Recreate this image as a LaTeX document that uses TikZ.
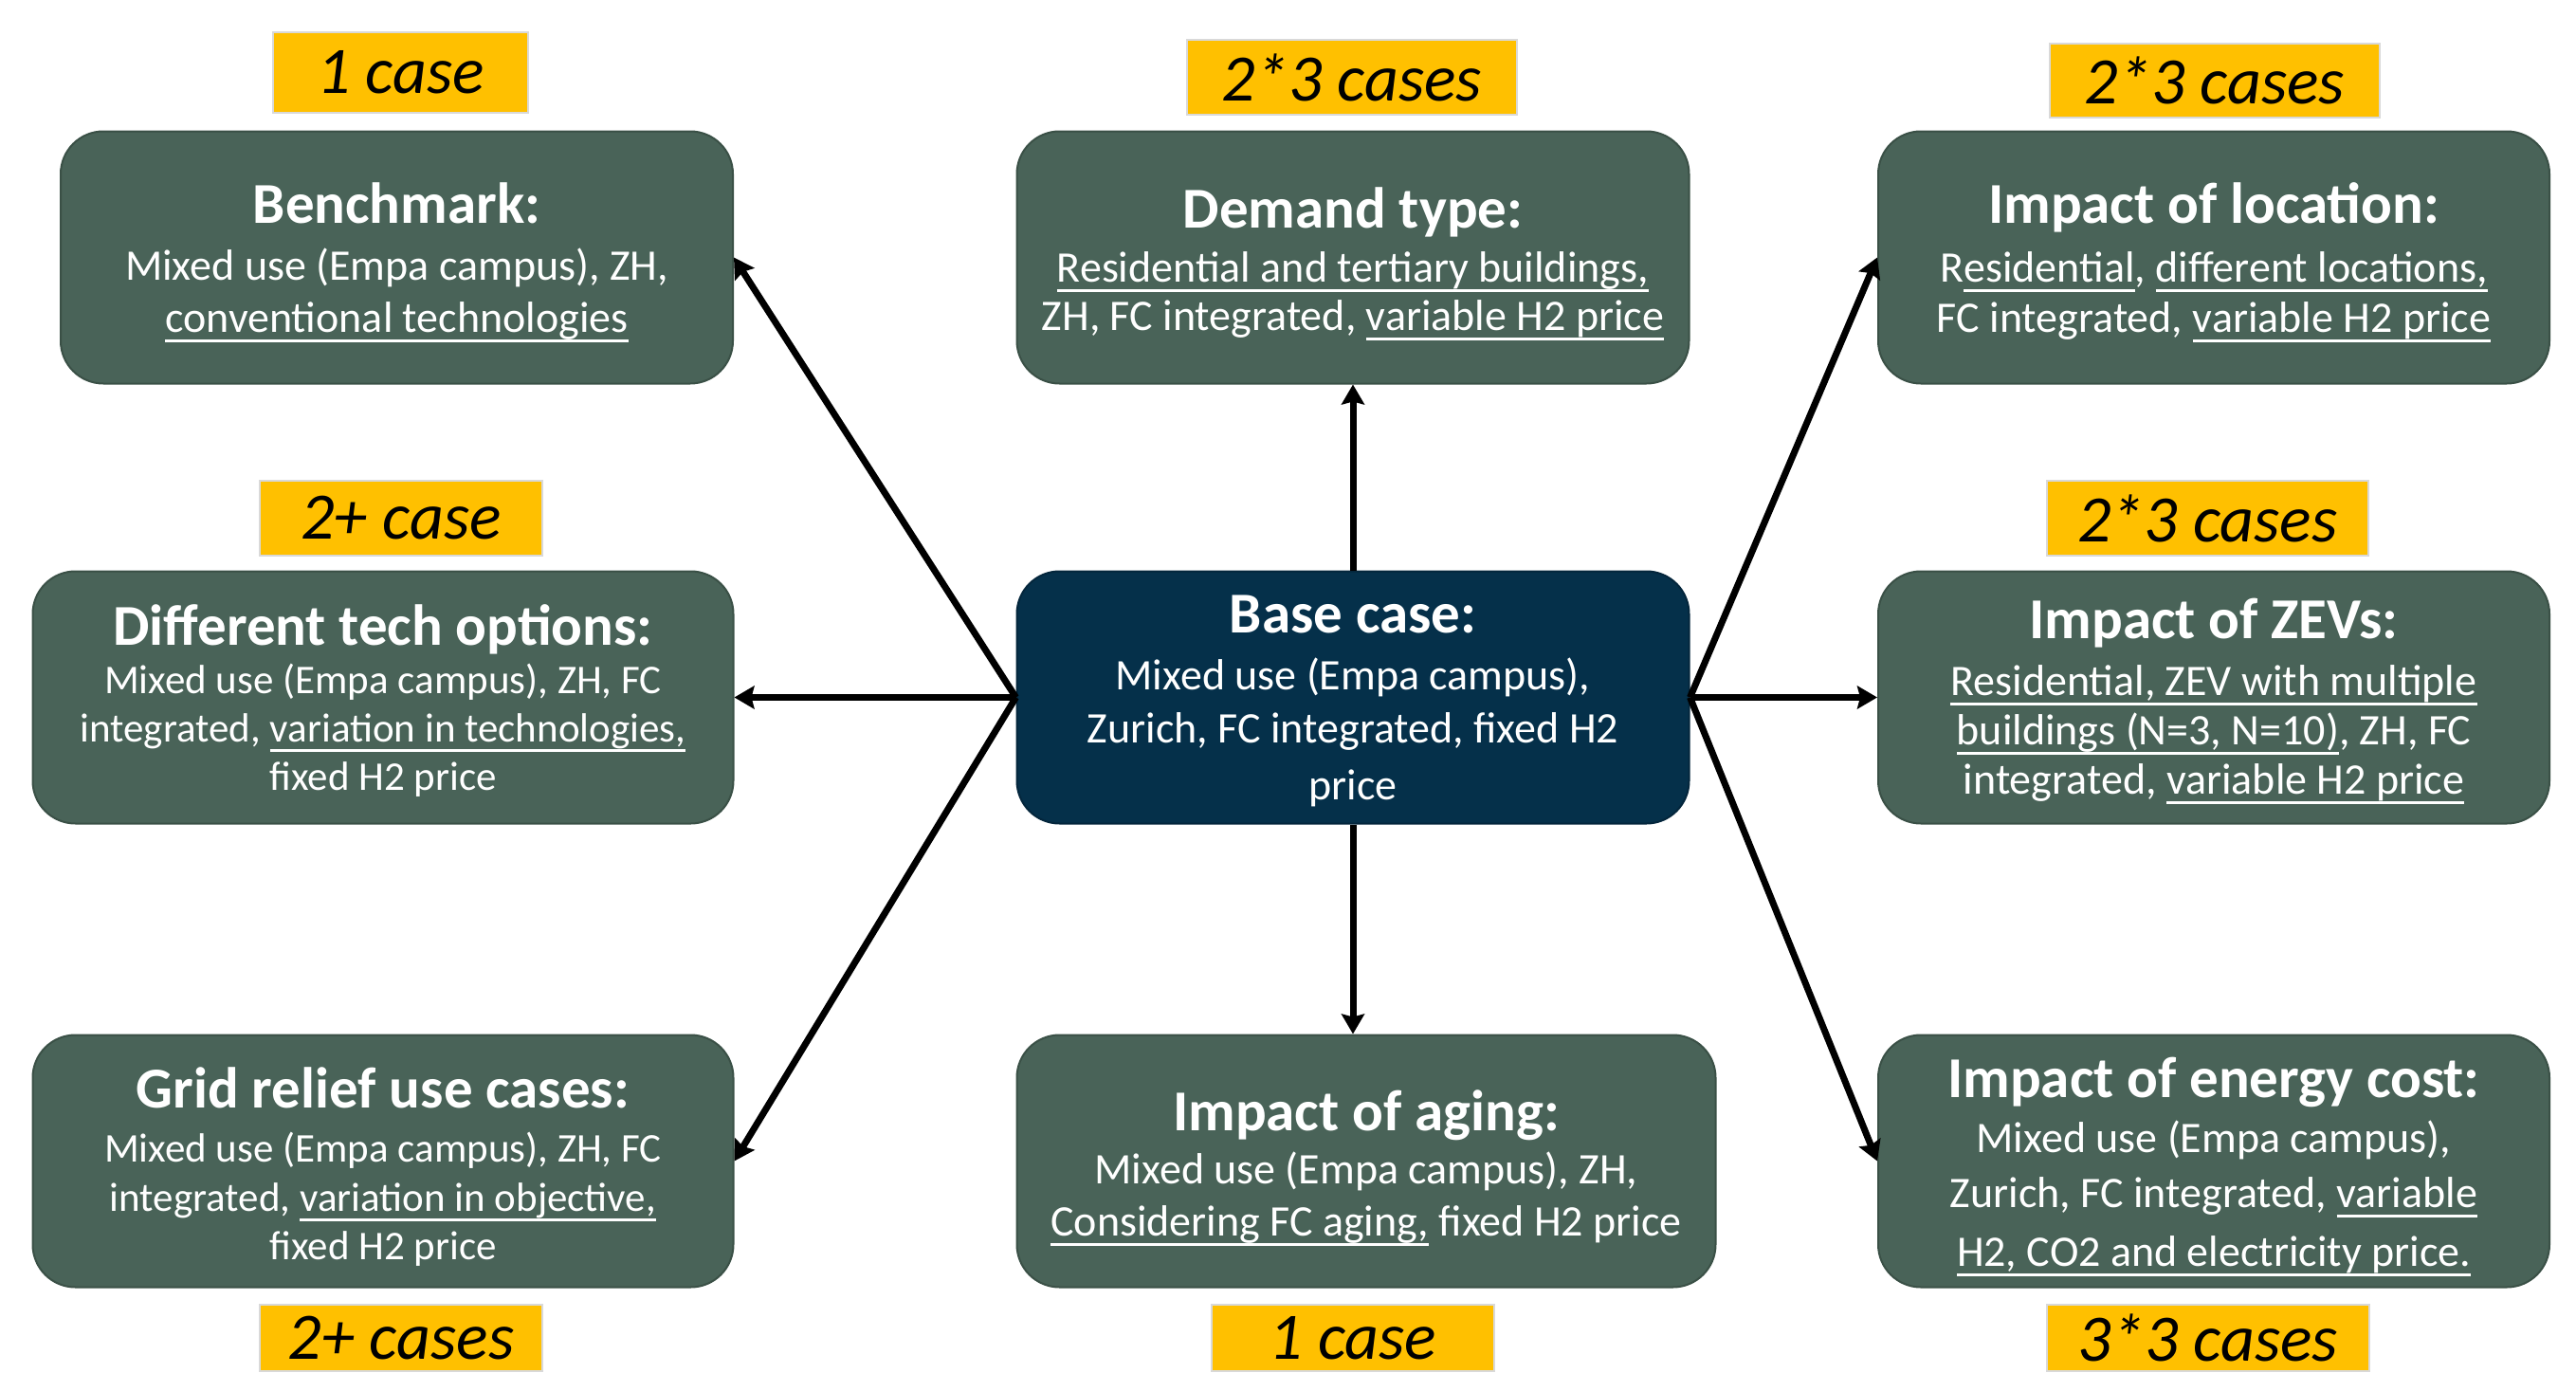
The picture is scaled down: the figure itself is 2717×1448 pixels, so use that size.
\documentclass[tikz,border=0pt]{standalone}
\usepackage{fontspec}
\setmainfont{Carlito}
\usetikzlibrary{arrows.meta}

\definecolor{boxgreen}{RGB}{73,99,88}
\definecolor{boxedge}{RGB}{58,80,70}
\definecolor{boxnavy}{RGB}{5,48,74}
\definecolor{navyedge}{RGB}{4,38,60}
\definecolor{tagyellow}{RGB}{255,192,0}

% underline with a fixed depth below the baseline, for the large body text
\newsavebox{\undlbox}
\newcommand{\undl}[1]{\sbox{\undlbox}{#1}\rlap{\rule[-11pt]{\wd\undlbox}{3pt}}\usebox{\undlbox}}

\tikzset{
  casebox/.style={rectangle, rounded corners=45pt, fill=boxgreen, draw=boxedge,
    line width=2pt, minimum height=266pt, inner sep=0pt},
  basebox/.style={casebox, fill=boxnavy, draw=navyedge},
  tag/.style={rectangle, fill=tagyellow, draw=black!15, line width=1.5pt,
    inner sep=0pt, text=black, font=\fontsize{70}{70}\selectfont\itshape},
  boxtitle/.style={anchor=base, inner sep=0pt, text=white,
    font=\fontsize{61}{70}\selectfont\bfseries},
  boxbody/.style={anchor=base, inner sep=0pt, text=white,
    font=\fontsize{46}{55}\selectfont},
  boxbodysmall/.style={boxbody, font=\fontsize{43}{52}\selectfont},
  arr/.style={draw=black, line width=7pt,
    -{Stealth[length=21pt, width=24pt, inset=3pt]}},
}

\begin{document}
\begin{tikzpicture}[x=1pt, y=-1pt]
\useasboundingbox (0,0) rectangle (2717,1448);
\fill[white] (0,0) rectangle (2717,1448);

% ---- case boxes ----
\node[casebox, minimum width=709pt] (bench)    at (418.5,271.5) {};
\node[casebox, minimum width=709pt] (demand)   at (1427,271.5) {};
\node[casebox, minimum width=708pt] (location) at (2335,271.5) {};
\node[casebox, minimum width=739pt] (tech)     at (404,735.5) {};
\node[basebox, minimum width=709pt] (base)     at (1427,735.5) {};
\node[casebox, minimum width=708pt] (zev)      at (2335,735.5) {};
\node[casebox, minimum width=739pt] (grid)     at (404,1224.5) {};
\node[casebox, minimum width=737pt] (aging)    at (1441,1224.5) {};
\node[casebox, minimum width=708pt] (energy)   at (2335,1224.5) {};

% ---- connectors from the base case ----
\draw[arr] (base.north) -- (demand.south);
\draw[arr] (base.south) -- (base.south |- aging.north);
\draw[arr] (base.west) -- (tech.east);
\draw[arr] (base.east) -- (zev.west);
\draw[arr] (base.west) -- (bench.east);
\draw[arr] (base.west) -- (grid.east);
\draw[arr] (base.east) -- (location.west);
\draw[arr] (base.east) -- (energy.west);

% ---- case counts ----
\node[tag, minimum width=269pt, minimum height=85pt] (tag-bench)    at (422.5,76.5) {1 case};
\node[tag, minimum width=348pt, minimum height=79pt] (tag-demand)   at (1426,81.5) {2*3 cases};
\node[tag, minimum width=348pt, minimum height=78pt] (tag-location) at (2336,85) {2*3 cases};
\node[tag, minimum width=298pt, minimum height=79pt] (tag-tech)     at (423,546.5) {2+ case};
\node[tag, minimum width=339pt, minimum height=79pt] (tag-zev)      at (2328.5,546.5) {2*3 cases};
\node[tag, minimum width=298pt, minimum height=70pt] (tag-grid)     at (423,1411) {2+ cases};
\node[tag, minimum width=298pt, minimum height=70pt] (tag-aging)    at (1427,1411) {1 case};
\node[tag, minimum width=340pt, minimum height=70pt] (tag-energy)   at (2329,1411) {3*3 cases};

% ---- box texts ----
\node[boxtitle] (bench-t)  at (418.5,235) {Benchmark:};
\node[boxbody]  (bench-1)  at (418.5,295) {Mixed use (Empa campus), ZH,};
\node[boxbody]  (bench-2)  at (418.5,350) {\undl{conventional technologies}};

\node[boxtitle] (demand-t) at (1427,240) {Demand type:};
\node[boxbody]  (demand-1) at (1427,297) {\undl{Residential and tertiary buildings,}};
\node[boxbody]  (demand-2) at (1427,348) {ZH, FC integrated, \undl{variable H2 price}};

\node[boxtitle] (location-t) at (2335,235) {Impact of location:};
\node[boxbody]  (location-1) at (2335,297) {R\undl{esidential}, \undl{different locations,}};
\node[boxbody]  (location-2) at (2335,350) {FC integrated, \undl{variable H2 price}};

\node[boxtitle]     (tech-t) at (404,680) {Different tech options:};
\node[boxbodysmall] (tech-1) at (404,731) {Mixed use (Empa campus), ZH, FC};
\node[boxbodysmall] (tech-2) at (404,782) {integrated, \undl{variation in technologies,}};
\node[boxbodysmall] (tech-3) at (404,833) {fixed H2 price};

\node[boxtitle] (base-t) at (1427,667) {Base case:};
\node[boxbody]  (base-1) at (1427,727) {Mixed use (Empa campus),};
\node[boxbody]  (base-2) at (1427,783) {Zurich, FC integrated, fixed H2};
\node[boxbody]  (base-3) at (1427,843) {price};

\node[boxtitle] (zev-t) at (2335,673) {Impact of ZEVs:};
\node[boxbody]  (zev-1) at (2335,733) {\undl{Residential, ZEV with multiple}};
\node[boxbody]  (zev-2) at (2335,785) {\undl{buildings (N=3, N=10)}, ZH, FC};
\node[boxbody]  (zev-3) at (2335,837) {integrated, \undl{variable H2 price}};

\node[boxtitle]     (grid-t) at (404,1168) {Grid relief use cases:};
\node[boxbodysmall] (grid-1) at (404,1225) {Mixed use (Empa campus), ZH, FC};
\node[boxbodysmall] (grid-2) at (404,1277) {integrated, \undl{variation in objective,}};
\node[boxbodysmall] (grid-3) at (404,1328) {fixed H2 price};

\node[boxtitle] (aging-t) at (1441,1192) {Impact of aging:};
\node[boxbody]  (aging-1) at (1441,1248) {Mixed use (Empa campus), ZH,};
\node[boxbody]  (aging-2) at (1441,1303) {\undl{Considering FC aging,} fixed H2 price};

\node[boxtitle] (energy-t) at (2335,1157) {Impact of energy cost:};
\node[boxbody]  (energy-1) at (2335,1215) {Mixed use (Empa campus),};
\node[boxbody]  (energy-2) at (2335,1273) {Zurich, FC integrated, \undl{variable}};
\node[boxbody]  (energy-3) at (2335,1335) {\undl{H2, CO2 and electricity price.}};
\end{tikzpicture}
\end{document}
